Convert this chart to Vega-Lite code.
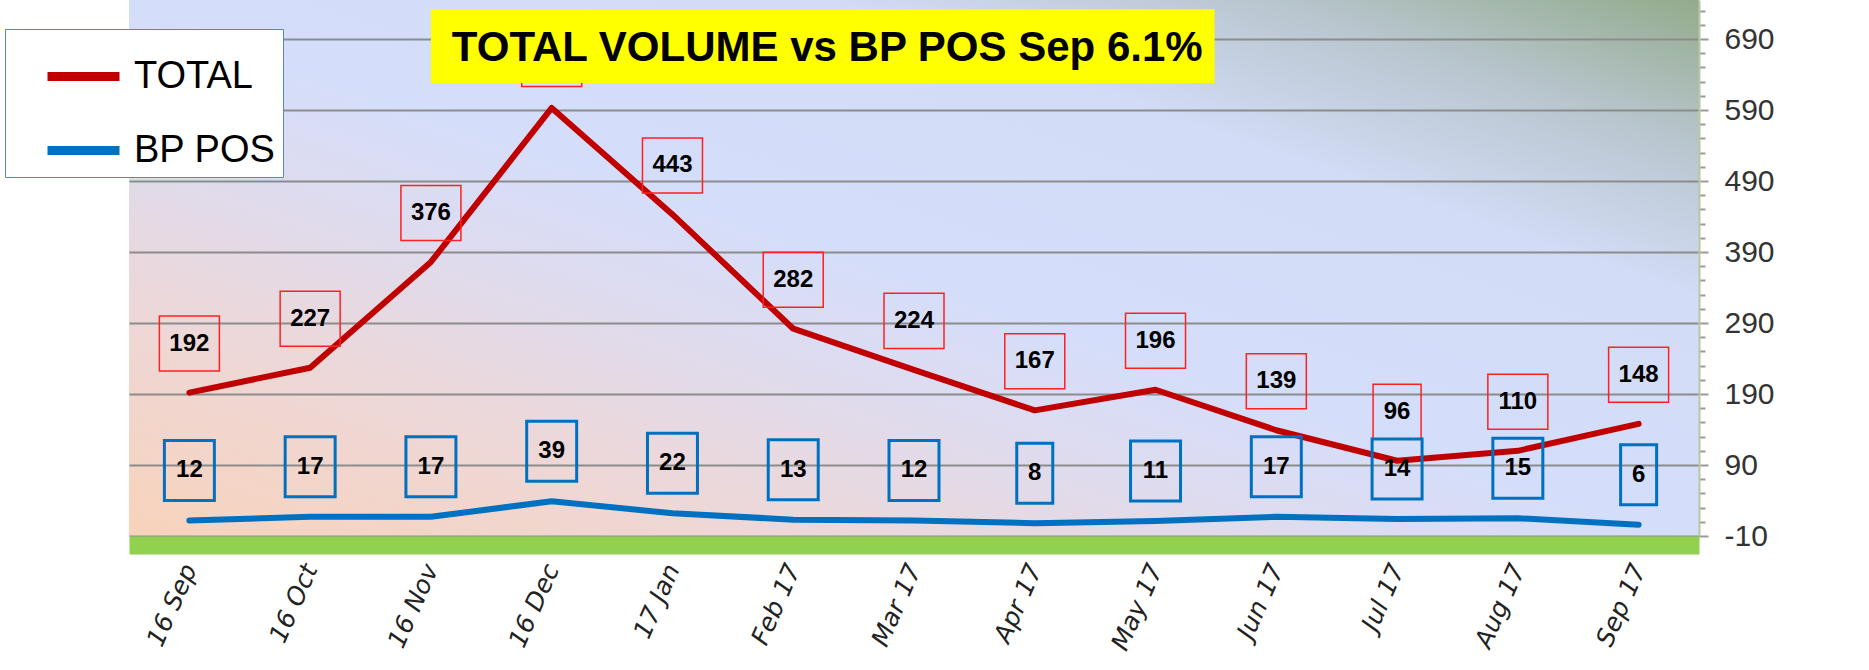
{
  "$schema": "https://vega.github.io/schema/vega-lite/v6.json",
  "width": 1570,
  "height": 536,
  "padding": {"left": 4, "top": 0, "right": 5, "bottom": 5},
  "background": "white",
  "config": {
    "view": {
      "stroke": null,
      "fill": {
        "gradient": "linear", "x1": 0, "y1": 1, "x2": 1, "y2": 0,
        "stops": [
          {"offset": 0, "color": "#f8d3bb"},
          {"offset": 0.2, "color": "#eed7d6"},
          {"offset": 0.4, "color": "#dcdcf2"},
          {"offset": 0.5, "color": "#d4defa"},
          {"offset": 0.72, "color": "#d2dcf6"},
          {"offset": 0.86, "color": "#b9c6cf"},
          {"offset": 1, "color": "#93ab8c"}
        ]
      }
    }
  },
  "data": {
    "values": [
      {"month": "16 Sep", "series": "TOTAL", "value": 192},
      {"month": "16 Oct", "series": "TOTAL", "value": 227},
      {"month": "16 Nov", "series": "TOTAL", "value": 376},
      {"month": "16 Dec", "series": "TOTAL", "value": 593},
      {"month": "17 Jan", "series": "TOTAL", "value": 443},
      {"month": "Feb 17", "series": "TOTAL", "value": 282},
      {"month": "Mar 17", "series": "TOTAL", "value": 224},
      {"month": "Apr 17", "series": "TOTAL", "value": 167},
      {"month": "May 17", "series": "TOTAL", "value": 196},
      {"month": "Jun 17", "series": "TOTAL", "value": 139},
      {"month": "Jul 17", "series": "TOTAL", "value": 96},
      {"month": "Aug 17", "series": "TOTAL", "value": 110},
      {"month": "Sep 17", "series": "TOTAL", "value": 148},
      {"month": "16 Sep", "series": "BP POS", "value": 12},
      {"month": "16 Oct", "series": "BP POS", "value": 17},
      {"month": "16 Nov", "series": "BP POS", "value": 17},
      {"month": "16 Dec", "series": "BP POS", "value": 39},
      {"month": "17 Jan", "series": "BP POS", "value": 22},
      {"month": "Feb 17", "series": "BP POS", "value": 13},
      {"month": "Mar 17", "series": "BP POS", "value": 12},
      {"month": "Apr 17", "series": "BP POS", "value": 8},
      {"month": "May 17", "series": "BP POS", "value": 11},
      {"month": "Jun 17", "series": "BP POS", "value": 17},
      {"month": "Jul 17", "series": "BP POS", "value": 14},
      {"month": "Aug 17", "series": "BP POS", "value": 15},
      {"month": "Sep 17", "series": "BP POS", "value": 6}
    ]
  },
  "encoding": {
    "x": {
      "field": "month",
      "type": "ordinal",
      "scale": {
        "type": "point",
        "padding": 0.5,
        "domain": ["16 Sep", "16 Oct", "16 Nov", "16 Dec", "17 Jan", "Feb 17", "Mar 17", "Apr 17", "May 17", "Jun 17", "Jul 17", "Aug 17", "Sep 17"]
      },
      "axis": {
        "title": null,
        "orient": "bottom",
        "offset": 9,
        "domainColor": "#92d050",
        "domainWidth": 18,
        "ticks": false,
        "tickSize": 0,
        "grid": false,
        "labelAngle": -66,
        "labelFont": "DejaVu Sans",
        "labelFontStyle": "italic",
        "labelFontSize": 25,
        "labelColor": "#222222",
        "labelPadding": 20
      }
    },
    "y": {
      "field": "value",
      "type": "quantitative",
      "scale": {"domain": [-10, 745], "nice": false, "zero": false},
      "axis": {
        "title": null,
        "orient": "right",
        "values": [-10, 10, 30, 50, 70, 90, 110, 130, 150, 170, 190, 210, 230, 250, 270, 290, 310, 330, 350, 370, 390, 410, 430, 450, 470, 490, 510, 530, 550, 570, 590, 610, 630, 650, 670, 690, 710, 730],
        "labelExpr": "(datum.value + 10) % 100 == 0 ? toString(datum.value) : ''",
        "grid": true,
        "gridColor": "#8c8c8c",
        "gridWidth": 2,
        "gridOpacity": {"condition": {"test": "(datum.value + 10) % 100 == 0", "value": 1}, "value": 0},
        "tickSize": {"condition": {"test": "(datum.value + 10) % 100 == 0", "value": 9}, "value": 6},
        "tickColor": "#9a9a9a",
        "tickWidth": 2,
        "domainColor": "#b8c8a0",
        "domainWidth": 2,
        "labelFont": "Liberation Sans",
        "labelFontSize": 30,
        "labelColor": "#333333",
        "labelPadding": 16
      }
    }
  },
  "layer": [
    {
      "mark": {"type": "line", "strokeWidth": 6, "strokeCap": "round", "strokeJoin": "round"},
      "encoding": {
        "color": {
          "field": "series",
          "type": "nominal",
          "scale": {"domain": ["TOTAL", "BP POS"], "range": ["#c00000", "#0070c0"]},
          "legend": {
            "title": null,
            "orient": "none",
            "legendX": -124,
            "legendY": 29,
            "fillColor": "white",
            "strokeColor": "#5b85c2",
            "padding": 7,
            "symbolType": "stroke",
            "symbolSize": 5184,
            "symbolStrokeWidth": 9,
            "symbolOffset": 31,
            "rowPadding": 14,
            "labelOffset": 10,
            "labelFont": "Liberation Sans",
            "labelFontSize": 38,
            "labelColor": "#000000",
            "labelLimit": 400
          }
        }
      }
    },
    {
      "transform": [{"filter": "datum.series == 'TOTAL'"}],
      "mark": {"type": "point", "filled": false, "opacity": 1, "stroke": "#ff2020", "strokeWidth": 1.5, "size": 3600, "yOffset": -49},
      "encoding": {
        "shape": {
          "condition": {"test": "datum.value < 100", "value": "M-0.8,-0.917L0.8,-0.917L0.8,0.917L-0.8,0.917Z"},
          "value": "M-1,-0.917L1,-0.917L1,0.917L-1,0.917Z"
        }
      }
    },
    {
      "transform": [{"filter": "datum.series == 'TOTAL'"}],
      "mark": {"type": "text", "yOffset": -49, "baseline": "middle", "align": "center", "font": "Liberation Sans", "fontWeight": "bold", "fontSize": 24, "color": "#000000"},
      "encoding": {"text": {"field": "value", "type": "quantitative"}}
    },
    {
      "transform": [{"filter": "datum.series == 'BP POS'"}],
      "mark": {"type": "point", "filled": false, "opacity": 1, "stroke": "#0070c0", "strokeWidth": 3, "size": 3600, "yOffset": -50},
      "encoding": {
        "shape": {
          "condition": {"test": "datum.value < 10", "value": "M-0.6,-1L0.6,-1L0.6,1L-0.6,1Z"},
          "value": "M-0.833,-1L0.833,-1L0.833,1L-0.833,1Z"
        }
      }
    },
    {
      "transform": [{"filter": "datum.series == 'BP POS'"}],
      "mark": {"type": "text", "yOffset": -50, "baseline": "middle", "align": "center", "font": "Liberation Sans", "fontWeight": "bold", "fontSize": 24, "color": "#000000"},
      "encoding": {"text": {"field": "value", "type": "quantitative"}}
    },
    {
      "transform": [{"filter": "datum.series == 'TOTAL' && datum.month == '16 Nov'"}],
      "mark": {"type": "rect", "color": "#ffff00", "opacity": 1, "x2Offset": 59},
      "encoding": {
        "x2": {"datum": "May 17"},
        "y": {"datum": 628, "type": "quantitative"},
        "y2": {"datum": 732}
      }
    },
    {
      "transform": [{"filter": "datum.series == 'TOTAL' && datum.month == 'Feb 17'"}],
      "mark": {"type": "text", "dx": 34, "baseline": "middle", "align": "center", "font": "Liberation Sans", "fontWeight": "bold", "fontSize": 42, "color": "#000000"},
      "encoding": {
        "y": {"datum": 678, "type": "quantitative"},
        "text": {"value": "TOTAL VOLUME vs BP POS Sep 6.1%"}
      }
    }
  ]
}
